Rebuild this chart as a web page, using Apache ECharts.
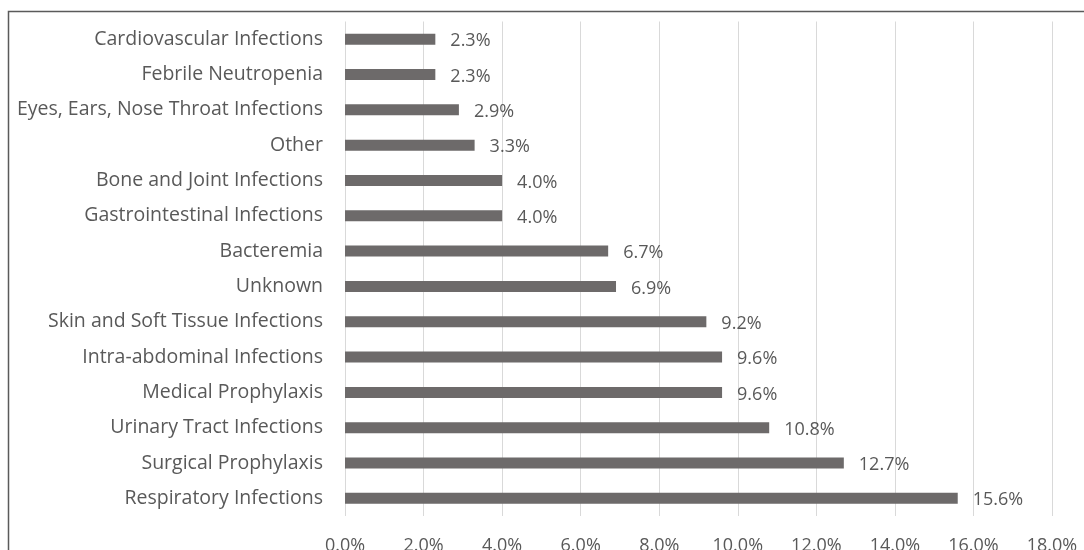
<!DOCTYPE html>
<html>
<head>
<meta charset="utf-8">
<script src="https://cdn.jsdelivr.net/npm/echarts@6/dist/echarts.min.js"></script>
<style>
  html, body { margin: 0; padding: 0; background: #fff; }
  #chart { width: 1084px; height: 550px; }
</style>
</head>
<body>
<div id="chart"></div>
<script>
// Indications, listed top to bottom
const categories = [
  'Cardiovascular Infections',
  'Febrile Neutropenia',
  'Eyes, Ears, Nose Throat Infections',
  'Other',
  'Bone and Joint Infections',
  'Gastrointestinal Infections',
  'Bacteremia',
  'Unknown',
  'Skin and Soft Tissue Infections',
  'Intra-abdominal Infections',
  'Medical Prophylaxis',
  'Urinary Tract Infections',
  'Surgical Prophylaxis',
  'Respiratory Infections'
];
// Share of prescriptions, percent
const shares = [2.3, 2.3, 2.9, 3.3, 4.0, 4.0, 6.7, 6.9, 9.2, 9.6, 9.6, 10.8, 12.7, 15.6];
// Value axis range, percent
const axisMin = 0;
const axisMax = 18;
const axisStep = 2;

const textColor = '#595959';
const fontFamily = '"Open Sans", "Liberation Sans", sans-serif';

const chart = echarts.init(document.getElementById('chart'), null, { renderer: 'canvas' });
chart.setOption({
  animation: false,
  backgroundColor: '#ffffff',
  graphic: [{
    type: 'rect',
    shape: { x: 8.5, y: 11.5, width: 1200, height: 700 },
    style: { fill: 'none', stroke: '#5a5a5a', lineWidth: 1.5 },
    silent: true
  }],
  grid: {
    left: 345, right: 32, top: 21.5, bottom: 34,
    containLabel: false,
    outerBoundsMode: 'none'
  },
  xAxis: {
    type: 'value',
    min: axisMin,
    max: axisMax,
    interval: axisStep,
    axisLine: { show: false },
    axisTick: { show: false },
    splitLine: { show: true, lineStyle: { color: '#d9d9d9', width: 1 } },
    axisLabel: {
      color: textColor,
      fontFamily: fontFamily,
      fontSize: 18,
      margin: 21,
      formatter: v => v.toFixed(1) + '%'
    }
  },
  yAxis: {
    type: 'category',
    data: categories,
    inverse: true,
    axisLine: { show: false },
    axisTick: { show: false },
    axisLabel: {
      color: textColor,
      fontFamily: fontFamily,
      fontSize: 19.5,
      margin: 22
    }
  },
  series: [{
    type: 'bar',
    data: shares,
    barWidth: 11,
    itemStyle: { color: '#6d6a6a' },
    label: {
      show: true,
      position: 'right',
      distance: 15,
      offset: [0, 2],
      color: textColor,
      fontFamily: fontFamily,
      fontSize: 18,
      formatter: p => p.value.toFixed(1) + '%'
    }
  }]
});
</script>
</body>
</html>
